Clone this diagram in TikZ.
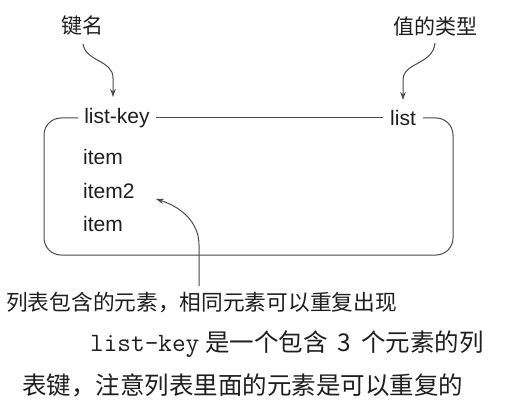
\documentclass[tikz,border=0pt]{standalone}
\usepackage{fontspec}
\setmainfont{Liberation Sans}
\newfontfamily\cjk{Noto Sans CJK SC}
\newfontfamily\mono{Latin Modern Mono}
\usetikzlibrary{arrows.meta}
\definecolor{ink}{HTML}{1E1E1E}
\definecolor{linec}{HTML}{4A4A4A}
\begin{document}
\begin{tikzpicture}[x=1pt,y=-1pt,
  cjklbl/.style={font=\cjk\fontsize{21}{21}\selectfont, text=ink, inner sep=0pt},
  sans/.style={font=\fontsize{21}{21}\selectfont, text=ink, inner ysep=0pt},
  itm/.style={font=\fontsize{21}{21}\selectfont, text=ink, inner sep=0pt, anchor=west},
  frame/.style={draw=linec, line width=1pt},
  arr/.style={draw=linec, line width=1pt, -{Stealth[length=8pt,width=5.5pt]}},
  caption/.style={font=\cjk\fontsize{24.5}{25}\selectfont, text=ink, inner sep=0pt, anchor=west}]
\useasboundingbox (0,0) rectangle (510,403);
% top labels
\node[cjklbl] (kn) at (82,26) {键名};
\node[cjklbl] (vt) at (435,26) {值的类型};
% box header labels
\node[sans, inner xsep=6pt] (lk) at (117,118) {list-key};
\node[sans, inner xsep=7pt] (ls) at (403,118) {list};
% items
\node[itm] (it1) at (83,157) {item};
\node[itm] (it2) at (83,191) {item2};
\node[itm] (it3) at (83,224) {item};
% frame
\draw[frame, rounded corners=17pt] (lk.west) -| (44,255) -| (453,118) -- (ls.east);
\draw[frame] (lk.east) -- (ls.west);
% arrows
\coordinate (s1) at (83,44);
\coordinate (t1) at (113,97);
\coordinate (s2) at (435,43);
\coordinate (t2) at (403,100);
\coordinate (s3) at (199,286);
\coordinate (t3) at (156,199);
\draw[arr] (s1) .. controls (86,62) and (113,60) .. (113,78) -- (t1);
\draw[arr] (s2) .. controls (433,65) and (403,62) .. (403,80) -- (t2);
\draw[arr] (s3) -- (199,245) .. controls (199,222) and (181,207) .. (t3);
% captions
\node[cjklbl, anchor=west, font=\cjk\fontsize{21.7}{22}\selectfont] (c1) at (6,302) {列表包含的元素，相同元素可以重复出现};
\node[caption] (c2) at (90,344) {{\mono\fontsize{26.5}{27}\selectfont list-key}\hspace{6pt}是一个包含\hspace{10pt}3\hspace{10pt}个元素的列};
\node[caption] (c3) at (22,385) {表键，注意列表里面的元素是可以重复的};
\end{tikzpicture}
\end{document}
